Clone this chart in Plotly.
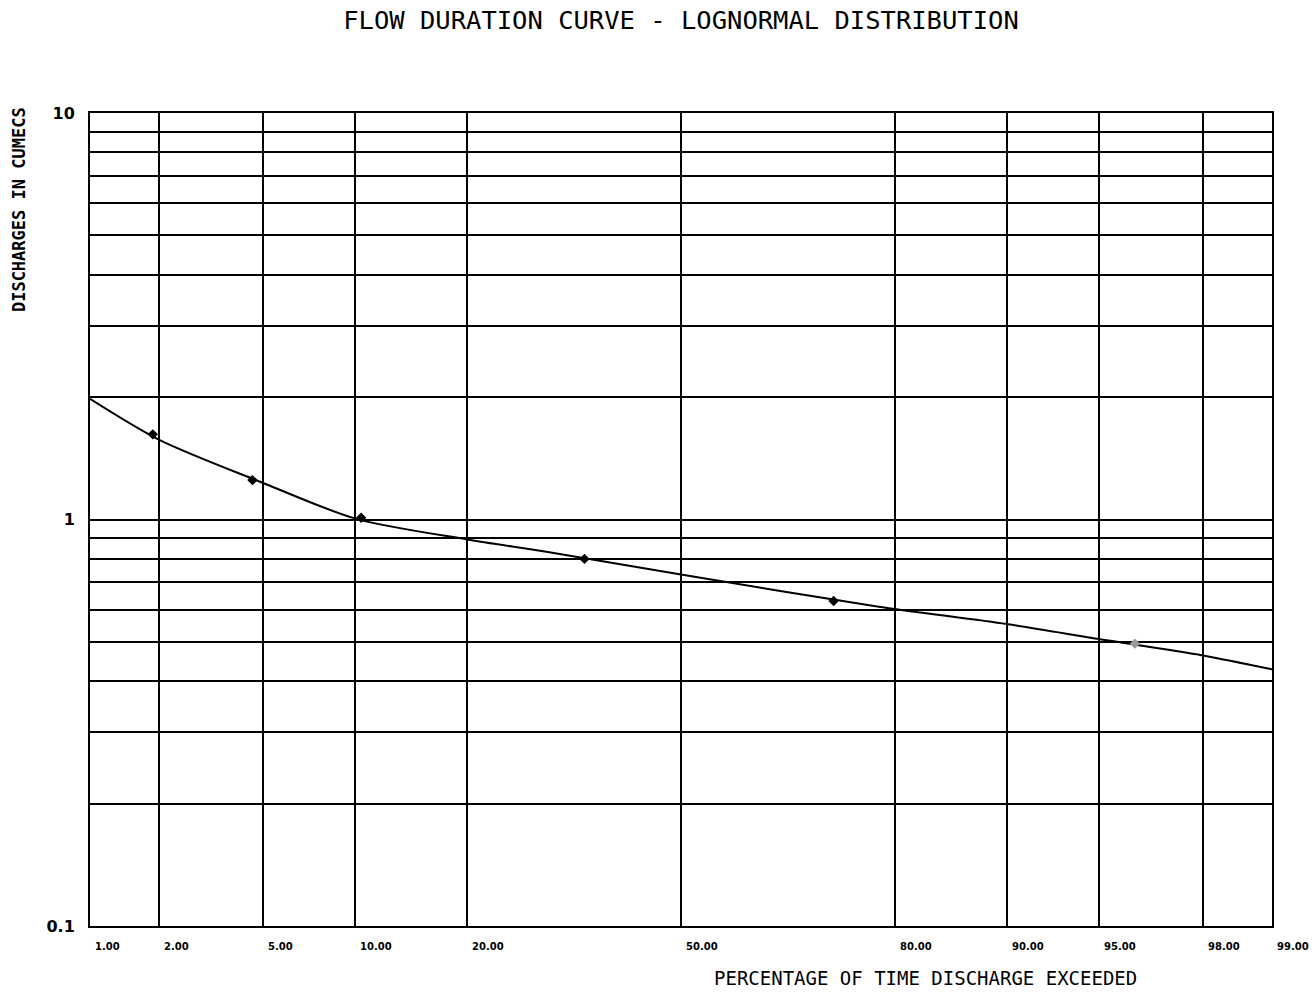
import plotly.graph_objects as go
from statistics import NormalDist

# Percentage-of-time gridlines (normal probability scale) and their labels
grid_pct = [1, 2, 5, 10, 20, 50, 80, 90, 95, 98, 99]
grid_pct_labels = ["1.00", "2.00", "5.00", "10.00", "20.00", "50.00",
                   "80.00", "90.00", "95.00", "98.00", "99.00"]

# Discharge gridlines (log scale) and labelled decades
grid_q = [0.1, 0.2, 0.3, 0.4, 0.5, 0.6, 0.7, 0.8, 0.9,
          1, 2, 3, 4, 5, 6, 7, 8, 9, 10]
grid_q_labels = ["0.1", "", "", "", "", "", "", "", "",
                 "1", "", "", "", "", "", "", "", "", "10"]

# Fitted lognormal flow duration curve
curve_pct = [1, 2, 5, 10, 20, 30, 50, 78, 90, 95, 98, 99]
curve_q = [1.98, 1.57, 1.23, 1.005, 0.893, 0.832, 0.732, 0.611,
           0.553, 0.508, 0.463, 0.428]

# Plotted observations
point_pct = [1.88, 4.58, 10.4, 35.2, 72.6, 96.3]
point_q = [1.62, 1.25, 1.01, 0.80, 0.63, 0.495]
point_colors = ["black", "black", "black", "black", "black", "#9a9a9a"]

_nd = NormalDist()


def prob_axis(p):
    """Map percentage exceeded onto the normal-probability axis."""
    return _nd.inv_cdf(p / 100.0)


fig = go.Figure()

fig.add_trace(go.Scatter(
    x=[prob_axis(p) for p in curve_pct],
    y=curve_q,
    mode="lines",
    line=dict(color="black", width=2, shape="spline", smoothing=0.8),
    hoverinfo="skip",
    showlegend=False,
))

fig.add_trace(go.Scatter(
    x=[prob_axis(p) for p in point_pct],
    y=point_q,
    mode="markers",
    marker=dict(symbol="diamond", size=8, color=point_colors),
    showlegend=False,
))

axis_font = "DejaVu Sans Mono"

fig.update_xaxes(
    range=[prob_axis(grid_pct[0]), prob_axis(grid_pct[-1])],
    tickvals=[prob_axis(p) for p in grid_pct],
    ticktext=["" for _ in grid_pct],
    showgrid=True, gridcolor="black", gridwidth=2,
    showline=True, linecolor="black", linewidth=2, mirror=True,
    zeroline=False, ticks="",
)

fig.update_yaxes(
    type="log",
    range=[-1, 1],
    tickvals=grid_q,
    ticktext=grid_q_labels,
    tickfont=dict(family="DejaVu Sans", size=16, color="black", weight="bold"),
    ticklabelstandoff=10,
    showgrid=True, gridcolor="black", gridwidth=2,
    showline=True, linecolor="black", linewidth=2, mirror=True,
    zeroline=False, ticks="",
)

annotations = []
for p, lab in zip(grid_pct, grid_pct_labels):
    annotations.append(dict(
        x=prob_axis(p), y=0, xref="x", yref="paper",
        text=lab, showarrow=False, xanchor="left", yanchor="middle",
        xshift=3, yshift=-20,
        font=dict(family="DejaVu Sans", size=10, color="black", weight="bold"),
    ))

annotations.append(dict(
    x=0.7065, y=-0.064, xref="paper", yref="paper",
    text="PERCENTAGE OF TIME DISCHARGE EXCEEDED", showarrow=False,
    xanchor="center", yanchor="middle",
    font=dict(family=axis_font, size=19, color="black"),
))

annotations.append(dict(
    x=-0.060, y=0.8807, xref="paper", yref="paper",
    text="DISCHARGES IN CUMECS", showarrow=False, textangle=-90,
    xanchor="center", yanchor="middle",
    font=dict(family=axis_font, size=17, color="black", weight="bold"),
))

fig.update_layout(
    width=1316, height=992,
    margin=dict(l=90, r=44, t=113, b=66),
    paper_bgcolor="white", plot_bgcolor="white",
    title=dict(
        text="FLOW DURATION CURVE - LOGNORMAL DISTRIBUTION",
        x=0.5, xref="paper", xanchor="center",
        y=1 - 20 / 992, yref="container", yanchor="middle",
        font=dict(family=axis_font, size=25.5, color="black"),
    ),
    annotations=annotations,
)

fig.write_html("out.html")
